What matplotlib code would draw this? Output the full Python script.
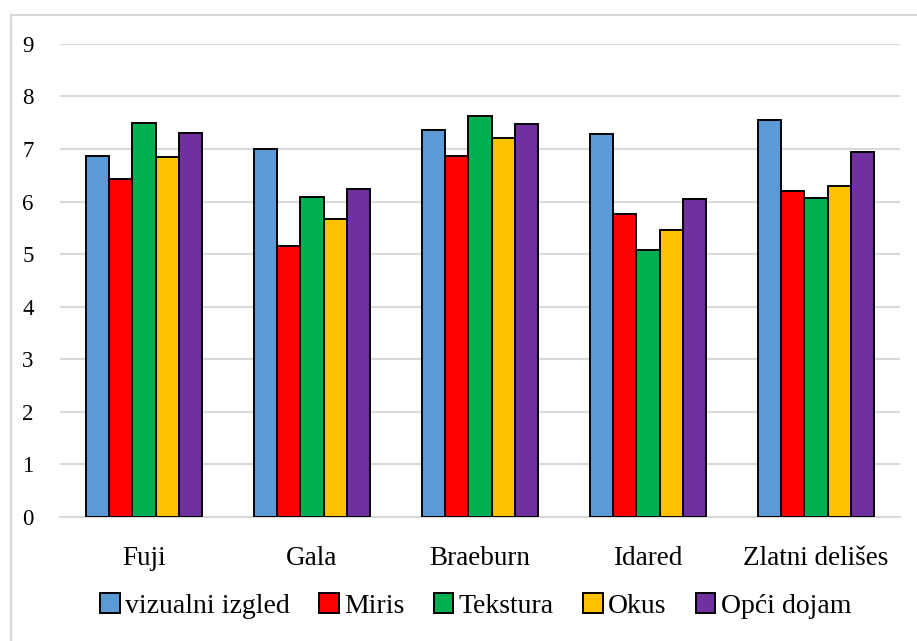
import matplotlib
matplotlib.use("Agg")
import matplotlib.pyplot as plt
import numpy as np
from matplotlib.patches import Rectangle

categories = ["Fuji", "Gala", "Braeburn", "Idared", "Zlatni delišes"]
series_names = ["vizualni izgled", "Miris", "Tekstura", "Okus", "Opći dojam"]
vizualni_izgled = [6.87, 6.99, 7.36, 7.28, 7.55]
miris = [6.42, 5.16, 6.87, 5.77, 6.20]
tekstura = [7.50, 6.09, 7.63, 5.07, 6.07]
okus = [6.84, 5.66, 7.21, 5.45, 6.30]
opci_dojam = [7.30, 6.24, 7.48, 6.04, 6.94]
yticks = list(range(0, 10))

values = [vizualni_izgled, miris, tekstura, okus, opci_dojam]
colors = ["#5B9BD5", "#FF0000", "#00B050", "#FFC000", "#7030A0"]

plt.rcParams['font.family'] = ['Liberation Serif', 'DejaVu Serif']

fig = plt.figure(figsize=(9.17, 6.41), dpi=100)
ax = fig.add_axes([60/917, 1-517/641, 840/917, (517-43.8)/641])

x = np.arange(len(categories))
bw = 0.139
for i, (name, vals, c) in enumerate(zip(series_names, values, colors)):
    ax.bar(x + (i - 2) * bw, vals, width=bw, color=c, edgecolor="black",
           linewidth=1.4, label=name, zorder=3)

ax.set_xlim(-0.5, len(categories) - 0.5)
ax.set_ylim(0, 9)
ax.set_yticks(yticks)
ax.set_yticklabels([str(t) for t in yticks], fontsize=16.5)
ax.set_xticks(x)
ax.set_xticklabels(categories, fontsize=19.5)
ax.tick_params(axis='both', length=0)
ax.tick_params(axis='y', pad=19)
ax.tick_params(axis='x', pad=21)
ax.grid(axis='y', color="#d9d9d9", linewidth=1.5, zorder=0)
for s in ["top", "right", "left"]:
    ax.spines[s].set_visible(False)
ax.spines["bottom"].set_color("#d9d9d9")
ax.spines["bottom"].set_linewidth(1.5)

handles, labels = ax.get_legend_handles_labels()
leg = fig.legend(handles, labels, loc="center", bbox_to_anchor=(0.519, 1-606/641),
                 ncol=5, frameon=False, fontsize=20, handlelength=0.7,
                 handleheight=0.7, handletextpad=0.2, columnspacing=1.05)

fig.patches.append(Rectangle((11/917, -0.1), 1.2, 1-15/641+0.1, transform=fig.transFigure,
                             fill=False, edgecolor="#d9d9d9", linewidth=1.5))

fig.savefig("out.png", dpi=100)
